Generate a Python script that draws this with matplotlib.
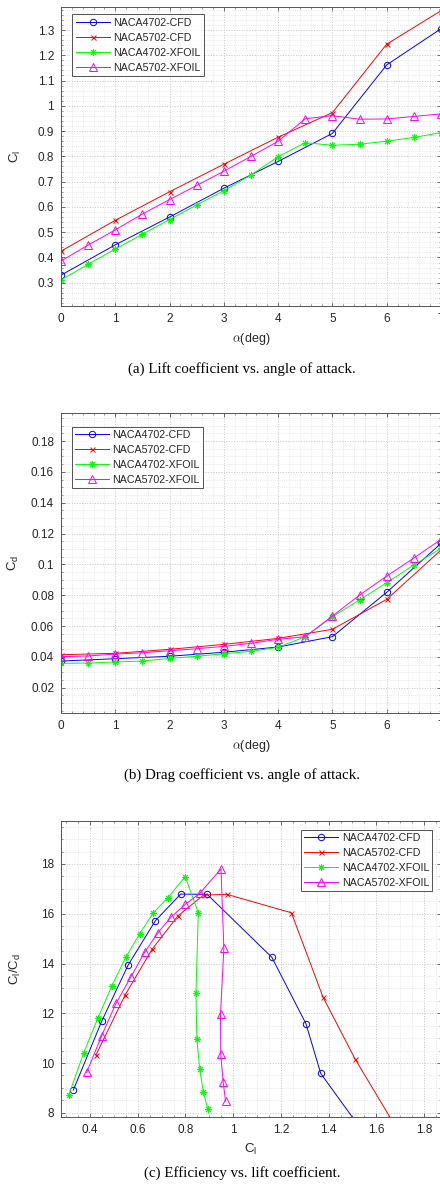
import matplotlib
matplotlib.use("Agg")
import matplotlib.pyplot as plt
from matplotlib.ticker import MultipleLocator

plt.rcParams["font.family"] = ["Liberation Sans", "DejaVu Sans"]
plt.rcParams["mathtext.fontset"] = "cm"

# Angle of attack (deg)
alpha_cfd = [0, 1, 2, 3, 4, 5, 6, 7, 8, 9]
alpha_xfoil = [0, 0.5, 1, 1.5, 2, 2.5, 3, 3.5, 4, 4.5, 5, 5.5, 6, 6.5, 7]

# Lift coefficient
cl_4702_cfd = [0.33, 0.45, 0.56, 0.674, 0.78, 0.891, 1.162, 1.305, 1.367, 1.56]
cl_5702_cfd = [0.425, 0.547, 0.66, 0.769, 0.876, 0.973, 1.244, 1.376, 1.511, 1.70]
cl_4702_xfoil = [0.311, 0.373, 0.433, 0.492, 0.55, 0.608, 0.664, 0.726, 0.799,
                 0.854, 0.844, 0.848, 0.86, 0.875, 0.894]
cl_5702_xfoil = [0.386, 0.449, 0.509, 0.572, 0.629, 0.685, 0.741, 0.80, 0.86,
                 0.949, 0.961, 0.947, 0.948, 0.958, 0.968]

# Drag coefficient
cd_4702_cfd = [0.0373, 0.0388, 0.0404, 0.043, 0.0464, 0.0531, 0.0819, 0.1136]
cd_5702_cfd = [0.0414, 0.0423, 0.0449, 0.0481, 0.052, 0.0579, 0.0773, 0.1093]
cd_4702_xfoil = [0.0358, 0.036, 0.0367, 0.0373, 0.039, 0.0404, 0.042, 0.0436,
                 0.0462, 0.0531, 0.066, 0.0769, 0.0881, 0.0996, 0.1104]
cd_5702_xfoil = [0.0401, 0.0406, 0.0418, 0.0427, 0.044, 0.0453, 0.0468, 0.0488,
                 0.0514, 0.0531, 0.0665, 0.0801, 0.0924, 0.1041, 0.1162]

# Efficiency Cl/Cd
eff_4702_cfd = [8.91, 11.7, 13.94, 15.72, 16.79, 16.78, 14.25, 11.58, 9.58, 7.02]
eff_5702_cfd = [10.32, 12.73, 14.57, 15.92, 16.75, 16.78, 16.04, 12.66, 10.16, 7.14]
eff_4702_xfoil = [8.71, 10.39, 11.8, 13.11, 14.25, 15.19, 16.02, 16.64, 17.49,
                  16.04, 12.8, 10.95, 9.74, 8.84, 8.14]
eff_5702_xfoil = [9.62, 11.1, 12.4, 13.47, 14.45, 15.24, 15.88, 16.38, 16.82,
                  17.8, 14.61, 11.96, 10.36, 9.25, 8.47]

labels = ["NACA4702-CFD", "NACA5702-CFD", "NACA4702-XFOIL", "NACA5702-XFOIL"]
colors = ["#0000ff", "#ff0000", "#00ff00", "#ff00ff"]
markers = ["o", "x", (8, 2, 0), "^"]
msizes = [4.6, 3.6, 5.0, 5.4]

TXT = "#262626"
AX = "#555555"


def style_axes(ax, xmaj, xmin, ymaj, ymin):
    ax.xaxis.set_major_locator(MultipleLocator(xmaj))
    ax.xaxis.set_minor_locator(MultipleLocator(xmin))
    ax.yaxis.set_major_locator(MultipleLocator(ymaj))
    ax.yaxis.set_minor_locator(MultipleLocator(ymin))
    ax.grid(True, which="major", color="#c6c6c6", linestyle=":", linewidth=0.7)
    ax.grid(True, which="minor", color="#dcdcdc", linestyle=":", linewidth=0.5)
    ax.set_axisbelow(True)
    ax.tick_params(which="both", direction="in", top=True, right=True,
                   colors=AX, labelcolor=TXT, labelsize=8.5, pad=5)
    ax.tick_params(which="major", length=3, width=0.6)
    ax.tick_params(which="minor", length=1.5, width=0.4)
    for s in ax.spines.values():
        s.set_color(AX)
        s.set_linewidth(0.7)


def draw(ax, xs, ys):
    for x, y, lab, c, m, ms in zip(xs, ys, labels, colors, markers, msizes):
        ax.plot(x, y, color=c, linewidth=0.7, marker=m, markersize=ms,
                markerfacecolor="none", markeredgecolor=c, markeredgewidth=0.7,
                label=lab)


def add_legend(ax, loc, anchor):
    leg = ax.legend(loc=loc, bbox_to_anchor=anchor, borderaxespad=0,
                    fontsize=7.7, frameon=True, fancybox=False, handlelength=3.2,
                    handletextpad=0.3, labelspacing=0.47, borderpad=0.3)
    leg.get_frame().set_edgecolor(TXT)
    leg.get_frame().set_linewidth(0.7)
    for t in leg.get_texts():
        t.set_color(TXT)


fig = plt.figure(figsize=(4.4, 11.91), dpi=100)
W, H = 440.0, 1191.0

# (a) lift
ax1 = fig.add_axes([61 / W, 1 - 306 / H, 380 / W, 299 / H])
draw(ax1, [alpha_cfd, alpha_cfd, alpha_xfoil, alpha_xfoil],
     [cl_4702_cfd, cl_5702_cfd, cl_4702_xfoil, cl_5702_xfoil])
ax1.set_xlim(0, 7)
ax1.set_ylim(0.208, 1.391)
style_axes(ax1, 1, 0.2, 0.1, 0.02)
ax1.set_yticks([0.3, 0.4, 0.5, 0.6, 0.7, 0.8, 0.9, 1.0, 1.1, 1.2, 1.3])
ax1.set_yticklabels(["0.3", "0.4", "0.5", "0.6", "0.7", "0.8", "0.9", "1",
                     "1.1", "1.2", "1.3"])
ax1.set_xlabel(r"$\alpha$(deg)", fontsize=9, color=TXT)
ax1.set_ylabel(r"$\mathregular{C_l}$", fontsize=9.5, color=TXT)
ax1.yaxis.set_label_coords(-0.1, 0.5)
add_legend(ax1, "upper left", (0.03, 0.975))

# (b) drag
ax2 = fig.add_axes([61 / W, 1 - 713.3 / H, 380 / W, 300 / H])
draw(ax2, [alpha_cfd[:len(cd_4702_cfd)], alpha_cfd[:len(cd_5702_cfd)],
           alpha_xfoil, alpha_xfoil],
     [cd_4702_cfd, cd_5702_cfd, cd_4702_xfoil, cd_5702_xfoil])
ax2.set_xlim(0, 7)
ax2.set_ylim(0.0034, 0.198)
style_axes(ax2, 1, 0.2, 0.02, 0.005)
ax2.set_yticks([0.02, 0.04, 0.06, 0.08, 0.1, 0.12, 0.14, 0.16, 0.18])
ax2.set_yticklabels(["0.02", "0.04", "0.06", "0.08", "0.1", "0.12", "0.14",
                     "0.16", "0.18"])
ax2.set_xlabel(r"$\alpha$(deg)", fontsize=9, color=TXT)
ax2.set_ylabel(r"$\mathregular{C_d}$", fontsize=9.5, color=TXT)
ax2.yaxis.set_label_coords(-0.105, 0.5)
add_legend(ax2, "upper left", (0.028, 0.955))

# (c) efficiency
ax3 = fig.add_axes([61 / W, 1 - 1117 / H, 380 / W, 296.3 / H])
draw(ax3, [cl_4702_cfd, cl_5702_cfd, cl_4702_xfoil, cl_5702_xfoil],
     [eff_4702_cfd, eff_5702_cfd, eff_4702_xfoil, eff_5702_xfoil])
ax3.set_xlim(0.2785, 1.871)
ax3.set_ylim(7.83, 19.74)
style_axes(ax3, 0.2, 0.05, 2, 0.5)
ax3.set_xticks([0.4, 0.6, 0.8, 1.0, 1.2, 1.4, 1.6, 1.8])
ax3.set_xticklabels(["0.4", "0.6", "0.8", "1", "1.2", "1.4", "1.6", "1.8"])
ax3.set_xlabel(r"$\mathregular{C_l}$", fontsize=9.5, color=TXT)
ax3.set_ylabel(r"$\mathregular{C_l/C_d}$", fontsize=9.5, color=TXT)
ax3.yaxis.set_label_coords(-0.1, 0.5)
add_legend(ax3, "upper right", (0.977, 0.97))

# Captions
cap_font = dict(family=["Liberation Serif", "DejaVu Serif"], fontsize=10.8,
                ha="center", va="center", color="black")
fig.text(242 / W, 1 - 369 / H, "(a) Lift coefficient vs. angle of attack.", **cap_font)
fig.text(242 / W, 1 - 775 / H, "(b) Drag coefficient vs. angle of attack.", **cap_font)
fig.text(242 / W, 1 - 1173 / H, "(c) Efficiency vs. lift coefficient.", **cap_font)

fig.savefig("out.png", dpi=100)
